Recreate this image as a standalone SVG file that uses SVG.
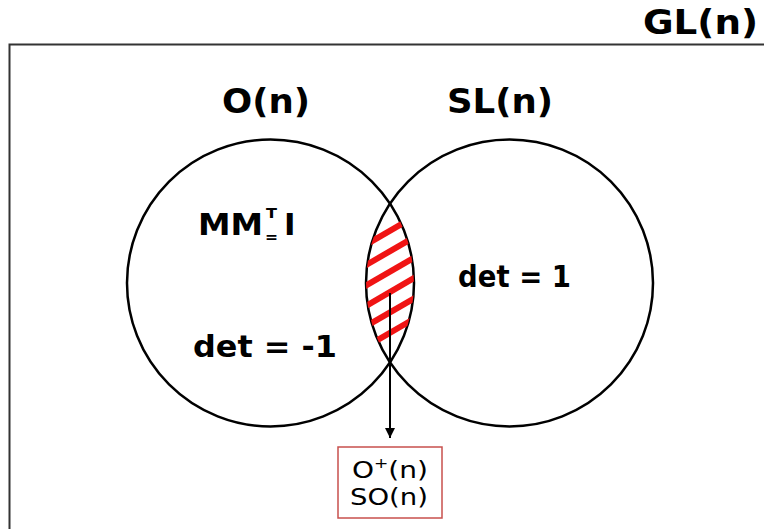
<svg xmlns="http://www.w3.org/2000/svg" width="764" height="529" viewBox="0 0 764 529">
<style>
  .lbl { font-family: "DejaVu Sans", "Liberation Sans", sans-serif; font-weight: bold; fill: #000; }
  .big { font-size: 33px; }
  .box { font-family: "DejaVu Sans", "Liberation Sans", sans-serif; font-size: 23px; fill: #000; }
  .circ { fill: none; stroke: #000; stroke-width: 2.5; }
  .stripe { stroke: #f01414; stroke-width: 6; }
</style>
<defs>
  <clipPath id="lens">
    <path d="M390 203.6 A143.5 143.5 0 0 1 390 362.4 A143.5 143.5 0 0 1 390 203.6 Z"/>
  </clipPath>
  <marker id="arr" viewBox="0 0 10 10" refX="10" refY="5" markerWidth="10" markerHeight="10" markerUnits="userSpaceOnUse" orient="auto">
    <path d="M0 0 L10 5 L0 10 Z" fill="#000"/>
  </marker>
</defs>
<rect width="764" height="529" fill="#fff"/>

<g id="GL">
  <path d="M9.5 529 V44.5 H764" fill="none" stroke="#333" stroke-width="2"/>
  <text class="lbl big" x="643" y="34" textLength="115" lengthAdjust="spacingAndGlyphs">GL(n)</text>
</g>

<g id="On">
  <circle class="circ" cx="270.5" cy="283" r="143.5"/>
  <text class="lbl big" x="222" y="113" textLength="88" lengthAdjust="spacingAndGlyphs">O(n)</text>
  <text class="lbl" font-size="31" x="198" y="235" textLength="65" lengthAdjust="spacingAndGlyphs">MM</text>
  <text class="lbl" font-size="14" x="266" y="218" textLength="11" lengthAdjust="spacingAndGlyphs">T</text>
  <text class="lbl" font-size="16" x="265" y="242" textLength="13" lengthAdjust="spacingAndGlyphs">=</text>
  <text class="lbl" font-size="31" x="284" y="235">I</text>
  <text class="lbl" font-size="30" x="193" y="357" textLength="144" lengthAdjust="spacingAndGlyphs">det = -1</text>
</g>

<g id="SLn">
  <circle class="circ" cx="509.5" cy="283" r="143.5"/>
  <text class="lbl big" x="447" y="113" textLength="106" lengthAdjust="spacingAndGlyphs">SL(n)</text>
  <text class="lbl" font-size="30" x="458" y="287" textLength="113" lengthAdjust="spacingAndGlyphs">det = 1</text>
</g>

<g id="intersection">
  <g clip-path="url(#lens)">
    <line class="stripe" x1="350" y1="254" x2="430" y2="207.6"/>
    <line class="stripe" x1="350" y1="274.4" x2="430" y2="228"/>
    <line class="stripe" x1="350" y1="294.8" x2="430" y2="248.4"/>
    <line class="stripe" x1="350" y1="315.2" x2="430" y2="268.8"/>
    <line class="stripe" x1="350" y1="335.6" x2="430" y2="289.2"/>
    <line class="stripe" x1="350" y1="356" x2="430" y2="309.6"/>
  </g>
</g>

<g id="connectors">
  <line x1="390" y1="293" x2="390" y2="438" stroke="#000" stroke-width="2" marker-end="url(#arr)"/>
</g>

<g id="SOn">
  <rect x="338" y="447" width="104" height="71" fill="#fff" stroke="#c8504d" stroke-width="1.5"/>
  <text class="box" x="352" y="478" textLength="76" lengthAdjust="spacingAndGlyphs">O<tspan font-size="14" dy="-10">+</tspan><tspan dy="10">(n)</tspan></text>
  <text class="box" x="350" y="505" textLength="78" lengthAdjust="spacingAndGlyphs">SO(n)</text>
</g>
</svg>
